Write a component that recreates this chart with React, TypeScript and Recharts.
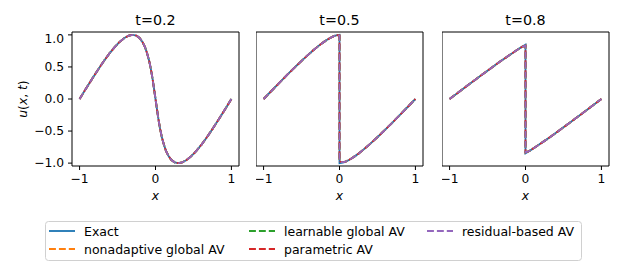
import { LineChart, Line, XAxis, YAxis, ReferenceArea } from 'recharts';

// Burgers solution snapshots
const t02X = [-1, -0.919, -0.838, -0.759, -0.682, -0.609, -0.538, -0.472, -0.41, -0.352, -0.3, -0.252, -0.21, -0.172, -0.138, -0.109, -0.082, -0.059, -0.038, -0.019, 0, 0.019, 0.038, 0.059, 0.082, 0.109, 0.138, 0.172, 0.21, 0.252, 0.3, 0.352, 0.41, 0.472, 0.538, 0.609, 0.682, 0.759, 0.838, 0.919, 1];
const t02Exact = [0, 0.156, 0.309, 0.454, 0.588, 0.707, 0.809, 0.891, 0.951, 0.988, 1, 0.988, 0.951, 0.891, 0.809, 0.707, 0.588, 0.454, 0.309, 0.156, 0, -0.156, -0.309, -0.454, -0.588, -0.707, -0.809, -0.891, -0.951, -0.988, -1, -0.988, -0.951, -0.891, -0.809, -0.707, -0.588, -0.454, -0.309, -0.156, 0];
const t02AV = t02Exact;

const t05X = [-1, -0.936, -0.872, -0.809, -0.745, -0.684, -0.623, -0.564, -0.506, -0.45, -0.396, -0.345, -0.295, -0.249, -0.204, -0.163, -0.124, -0.089, -0.056, -0.027, 0, 0, 0.027, 0.056, 0.089, 0.124, 0.163, 0.204, 0.249, 0.295, 0.345, 0.396, 0.45, 0.506, 0.564, 0.623, 0.684, 0.745, 0.809, 0.872, 0.936, 1];
const t05Exact = [0, 0.078, 0.156, 0.233, 0.309, 0.383, 0.454, 0.522, 0.588, 0.649, 0.707, 0.76, 0.809, 0.853, 0.891, 0.924, 0.951, 0.972, 0.988, 0.997, 1, -1, -0.997, -0.988, -0.972, -0.951, -0.924, -0.891, -0.853, -0.809, -0.76, -0.707, -0.649, -0.588, -0.522, -0.454, -0.383, -0.309, -0.233, -0.156, -0.078, 0];
const t05AV = [0, 0.078, 0.156, 0.233, 0.309, 0.383, 0.454, 0.522, 0.588, 0.649, 0.707, 0.76, 0.809, 0.853, 0.891, 0.924, 0.951, 0.972, 0.988, 0.995, 0.99, -0.97, -0.985, -0.985, -0.972, -0.951, -0.924, -0.891, -0.853, -0.809, -0.76, -0.707, -0.649, -0.588, -0.522, -0.454, -0.383, -0.309, -0.233, -0.156, -0.078, 0];

const t08X = [-1, -0.912, -0.825, -0.738, -0.653, -0.569, -0.487, -0.407, -0.33, -0.256, -0.184, -0.117, -0.053, -0.029, 0, 0, 0.029, 0.053, 0.117, 0.184, 0.256, 0.33, 0.407, 0.487, 0.569, 0.653, 0.738, 0.825, 0.912, 1];
const t08Exact = [0, 0.078, 0.156, 0.233, 0.309, 0.383, 0.454, 0.522, 0.588, 0.649, 0.707, 0.76, 0.809, 0.827, 0.847, -0.847, -0.827, -0.809, -0.76, -0.707, -0.649, -0.588, -0.522, -0.454, -0.383, -0.309, -0.233, -0.156, -0.078, 0];
const t08AV = [0, 0.078, 0.156, 0.233, 0.309, 0.383, 0.454, 0.522, 0.588, 0.649, 0.707, 0.76, 0.809, 0.822, 0.83, -0.83, -0.822, -0.809, -0.76, -0.707, -0.649, -0.588, -0.522, -0.454, -0.383, -0.309, -0.233, -0.156, -0.078, 0];

const xTicks = [-1, 0, 1];
const yTicks = [-1, -0.5, 0, 0.5, 1];
const X_DOMAIN = [-1.1, 1.1];
const Y_DOMAIN = [-1.045, 1.045];

const DASH = '6.9 3';
const SERIES = [
  { name: 'Exact', key: 'exact', color: '#1f77b4', dash: undefined, offset: 0 },
  { name: 'nonadaptive global AV', key: 'av', color: '#ff7f0e', dash: DASH, offset: 0 },
  { name: 'learnable global AV', key: 'av', color: '#2ca02c', dash: DASH, offset: 0 },
  { name: 'parametric AV', key: 'av', color: '#d62728', dash: DASH, offset: 1.5 },
  { name: 'residual-based AV', key: 'av', color: '#9467bd', dash: DASH, offset: 0 },
];

const toRows = (xs: number[], us: number[]) => xs.map((x, i) => ({ x, u: us[i] }));

const PANELS = [
  { title: 't=0.2', left: 72, showY: true, exact: toRows(t02X, t02Exact), av: toRows(t02X, t02AV) },
  { title: 't=0.5', left: 256, showY: false, exact: toRows(t05X, t05Exact), av: toRows(t05X, t05AV) },
  { title: 't=0.8', left: 442, showY: false, exact: toRows(t08X, t08Exact), av: toRows(t08X, t08AV) },
];

const FRAME_TOP = 32;
const FRAME_W = 167;
const FRAME_H = 134;
const Y_AXIS_W = 46;
const X_AXIS_H = 30;
const FONT = 12.3;
const LW = 1.85;

const minus = (s: string) => s.replace('-', '\u2212');

function Panel({ p }: { p: (typeof PANELS)[number] }) {
  const yw = p.showY ? Y_AXIS_W : 0;
  return (
    <div style={{ position: 'absolute', left: p.left - yw, top: FRAME_TOP - 1 }}>
      <LineChart
        width={yw + FRAME_W + 1}
        height={1 + FRAME_H + X_AXIS_H}
        margin={{ top: 1, right: 1, bottom: 0, left: 0 }}
      >
        <XAxis
          dataKey="x"
          type="number"
          domain={X_DOMAIN}
          ticks={xTicks}
          allowDataOverflow
          height={X_AXIS_H}
          axisLine={false}
          tickSize={4}
          tickMargin={4}
          tickLine={{ stroke: '#000' }}
          tick={{ fill: '#000', fontSize: FONT }}
          tickFormatter={(v: number) => minus(String(v))}
        />
        {p.showY ? (
          <YAxis
            type="number"
            domain={Y_DOMAIN}
            ticks={yTicks}
            allowDataOverflow
            width={Y_AXIS_W}
            axisLine={false}
            tickSize={4}
            tickMargin={4}
            tickLine={{ stroke: '#000' }}
            tick={{ fill: '#000', fontSize: FONT }}
            tickFormatter={(v: number) => minus(v.toFixed(1))}
          />
        ) : (
          <YAxis hide type="number" domain={Y_DOMAIN} allowDataOverflow />
        )}
        {SERIES.map((s) => (
          <Line
            key={s.name}
            data={s.key === 'exact' ? p.exact : p.av}
            dataKey="u"
            type="linear"
            stroke={s.color}
            strokeWidth={LW}
            strokeDasharray={s.dash}
            strokeDashoffset={s.offset}
            dot={false}
            activeDot={false}
            isAnimationActive={false}
          />
        ))}
        <ReferenceArea
          x1={X_DOMAIN[0]}
          x2={X_DOMAIN[1]}
          y1={Y_DOMAIN[0]}
          y2={Y_DOMAIN[1]}
          fill="none"
          fillOpacity={0}
          stroke="#000"
          strokeWidth={1}
          strokeOpacity={1}
        />
      </LineChart>
    </div>
  );
}

const legendCols = [49, 249, 427];
const legendRows = [231, 249];

export default function App() {
  return (
    <div
      style={{
        position: 'absolute',
        left: 0,
        top: 0,
        width: 623,
        height: 267,
        background: '#fff',
        fontFamily: '"DejaVu Sans", sans-serif',
      }}
    >
      {PANELS.map((p) => (
        <Panel key={p.title} p={p} />
      ))}
      <svg
        width={623}
        height={267}
        style={{ position: 'absolute', left: 0, top: 0, pointerEvents: 'none' }}
        fontFamily='"DejaVu Sans", sans-serif'
      >
        {PANELS.map((p) => (
          <g key={p.title}>
            <text x={p.left + FRAME_W / 2} y={25} textAnchor="middle" fontSize={14.3}>
              {p.title}
            </text>
            <text x={p.left + FRAME_W / 2} y={200} textAnchor="middle" fontSize={FONT} fontStyle="italic">
              x
            </text>
          </g>
        ))}
        <text transform="translate(27,99) rotate(-90)" textAnchor="middle" fontSize={FONT}>
          <tspan fontStyle="italic">u</tspan>(<tspan fontStyle="italic">x</tspan>, <tspan fontStyle="italic">t</tspan>)
        </text>
        <rect x={45.5} y={221.5} width={536} height={39} rx={3} fill="#fff" stroke="#d0d0d0" />
        {SERIES.map((s, i) => {
          const cx = legendCols[Math.floor(i / 2)];
          const cy = legendRows[i % 2];
          return (
            <g key={s.name}>
              <line x1={cx} x2={cx + 26} y1={cy} y2={cy} stroke={s.color} strokeWidth={LW} strokeDasharray={s.dash} />
              <text x={cx + 35} y={cy + 4.5} fontSize={12.5}>
                {s.name}
              </text>
            </g>
          );
        })}
      </svg>
    </div>
  );
}
